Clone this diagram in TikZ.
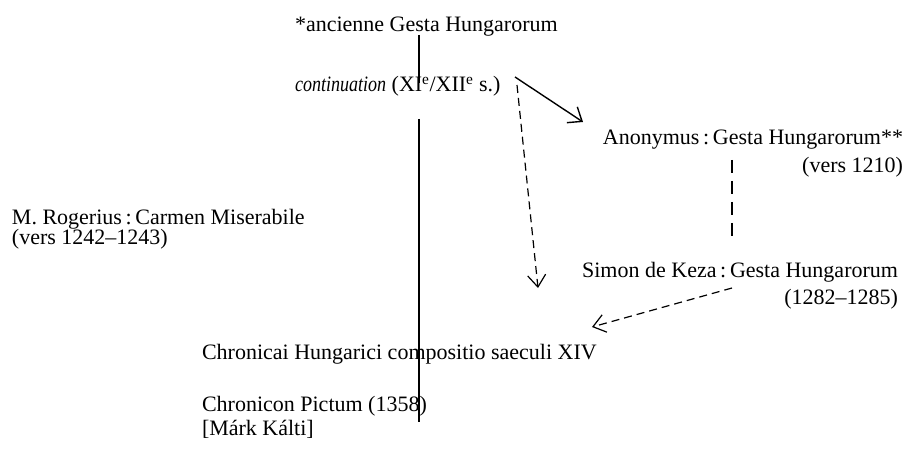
\documentclass[tikz,border=0pt]{standalone}
\usepackage{fontspec}
\setmainfont{Liberation Serif}
\usetikzlibrary{arrows.meta}
\begin{document}
\begin{tikzpicture}[x=1pt,y=-1pt,
  every node/.style={inner sep=0pt,outer sep=0pt,font=\fontsize{22}{26}\selectfont},
  lbl/.style={anchor=base west},
  rlbl/.style={anchor=base east},
  link/.style={line width=1.4pt},
  arr/.style={line width=1.4pt,-{Straight Barb[length=12pt,width=19pt,line width=1.4pt]}},
  darr/.style={line width=1.2pt,dash pattern=on 8pt off 5pt,-{Straight Barb[length=12pt,width=18pt,line width=1.2pt]}},
  dline/.style={line width=1.4pt,dash pattern=on 13pt off 8pt}]
\useasboundingbox (0,0) rectangle (908,449);
\node[lbl] (anc) at (295,32) {*ancienne Gesta Hungarorum};
\node[lbl] (cont) at (295,92) {\scalebox{0.82}[1]{\textit{continuation}} (XI\textsuperscript{e}/XII\textsuperscript{e} s.)};
\node[rlbl] (anon) at (903,145) {Anonymus\,:\,Gesta Hungarorum**};
\node[rlbl] (anonD) at (903,173) {(vers 1210)};
\node[rlbl] (simon) at (898,277) {Simon de Keza\,:\,Gesta Hungarorum};
\node[rlbl] (simonD) at (898,305) {(1282--1285)};
\node[lbl] (rog) at (12,225) {M. Rogerius\,:\,Carmen Miserabile};
\node[lbl] (rogD) at (12,245) {(vers 1242--1243)};
\node[lbl] (chr) at (202,359) {Chronicai Hungarici compositio saeculi XIV};
\node[lbl] (pict) at (202,411) {Chronicon Pictum (1358)};
\node[lbl] (kalti) at (202,435) {[Márk Kálti]};
\coordinate (a1) at (419,35);
\coordinate (a2) at (419,83);
\coordinate (b1) at (419,119);
\coordinate (b2) at (419,422);
\coordinate (c1) at (515,77);
\coordinate (c2) at (583,122);
\coordinate (d1) at (517,85);
\coordinate (d2) at (538,288);
\coordinate (e1) at (732,160);
\coordinate (e2) at (732,242);
\coordinate (f1) at (732,288);
\coordinate (f2) at (592,327);
\draw[link] (a1) -- (a2);
\draw[link] (b1) -- (b2);
\draw[arr] (c1) -- (c2);
\draw[darr] (d1) -- (d2);
\draw[dline] (e1) -- (e2);
\draw[darr] (f1) -- (f2);
\end{tikzpicture}
\end{document}
